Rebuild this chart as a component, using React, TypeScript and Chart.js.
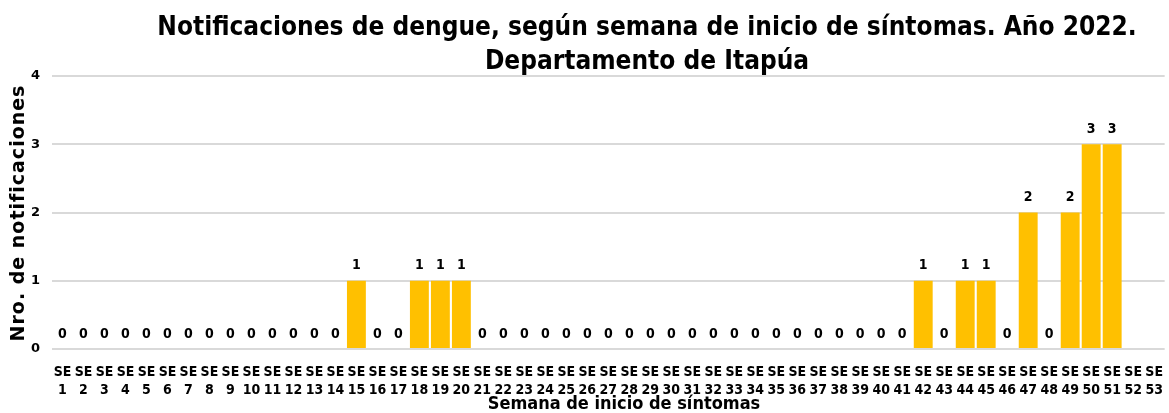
import React, { useEffect, useRef } from "react";
import { Chart, registerables } from "chart.js";

Chart.register(...registerables);

const weeks: string[] = Array.from({ length: 53 }, (_, i) => String(i + 1));
const notificaciones: (number | null)[] = [
  0, 0, 0, 0, 0, 0, 0, 0, 0, 0,
  0, 0, 0, 0, 1, 0, 0, 1, 1, 1,
  0, 0, 0, 0, 0, 0, 0, 0, 0, 0,
  0, 0, 0, 0, 0, 0, 0, 0, 0, 0,
  0, 1, 0, 1, 1, 0, 2, 0, 2, 3,
  3, null, null,
];
const yTicks: number[] = [0, 1, 2, 3, 4];
const titleLines: string[] = [
  "Notificaciones de dengue, según semana de inicio de síntomas. Año 2022.",
  "Departamento de Itapúa",
];
const xTitle = "Semana de inicio de síntomas";
const yTitle = "Nro. de notificaciones";

const FONT = "'DejaVu Sans Condensed', 'DejaVu Sans', sans-serif";
const WIDE = "'DejaVu Sans', sans-serif";

export default function App() {
  const ref = useRef<HTMLCanvasElement | null>(null);
  useEffect(() => {
    if (!ref.current) return;
    const textPlugin = {
      id: "texts",
      afterDatasetsDraw(chart: any) {
        const ctx = chart.ctx;
        const meta = chart.getDatasetMeta(0);
        ctx.save();
        ctx.fillStyle = "#000";
        ctx.font = `bold 14px ${FONT}`;
        ctx.textAlign = "center";
        ctx.textBaseline = "middle";
        meta.data.forEach((bar: any, i: number) => {
          const v = notificaciones[i];
          if (v === null || v === undefined) return;
          ctx.fillText(String(v), bar.x, bar.y - 15);
        });
        ctx.restore();
      },
      afterDraw(chart: any) {
        const ctx = chart.ctx;
        ctx.save();
        ctx.fillStyle = "#000";
        ctx.textAlign = "center";
        ctx.textBaseline = "middle";
        ctx.font = `bold 26px ${FONT}`;
        ctx.fillText(titleLines[0], 647, 28);
        ctx.fillText(titleLines[1], 647, 62);
        ctx.font = `bold 18px ${FONT}`;
        ctx.fillText(xTitle, 624, 404);
        ctx.translate(19, 213);
        ctx.rotate(-Math.PI / 2);
        ctx.font = `bold 19px ${WIDE}`;
        (ctx as any).letterSpacing = "1px";
        ctx.fillText(yTitle, 0, 0);
        ctx.restore();
      },
    };
    const chart = new Chart(ref.current, {
      type: "bar",
      data: {
        labels: weeks.map((w) => ["SE", w]),
        datasets: [
          {
            data: notificaciones as any,
            backgroundColor: "#FFC000",
            barPercentage: 0.9,
            categoryPercentage: 1,
          },
        ],
      },
      options: {
        animation: false,
        responsive: true,
        maintainAspectRatio: false,
        layout: { padding: { top: 76, right: 0, bottom: 0, left: 0 } },
        plugins: {
          legend: { display: false },
          tooltip: { enabled: false },
          title: { display: false },
        },
        scales: {
          x: {
            grid: { display: false },
            border: { display: false },
            ticks: {
              color: "#000",
              font: { family: FONT, size: 14, weight: "bold", lineHeight: 1.3 },
              maxRotation: 0,
              autoSkip: false,
              padding: 6,
            },
            afterFit: (s: any) => {
              s.height = 64;
            },
          },
          y: {
            min: 0,
            max: 4,
            afterBuildTicks: (s: any) => {
              s.ticks = yTicks.map((v) => ({ value: v }));
            },
            grid: { color: "#d9d9d9", lineWidth: 2, drawTicks: false },
            border: { display: false },
            ticks: {
              color: "#000",
              font: { family: WIDE, size: 13, weight: "bold" },
              padding: 12,
            },
            afterFit: (s: any) => {
              s.width = 52;
            },
          },
        },
      },
      plugins: [textPlugin],
    });
    return () => chart.destroy();
  }, []);
  return (
    <div style={{ position: "fixed", left: 0, top: 0, width: 1169, height: 413, background: "#fff" }}>
      <canvas ref={ref} />
    </div>
  );
}
